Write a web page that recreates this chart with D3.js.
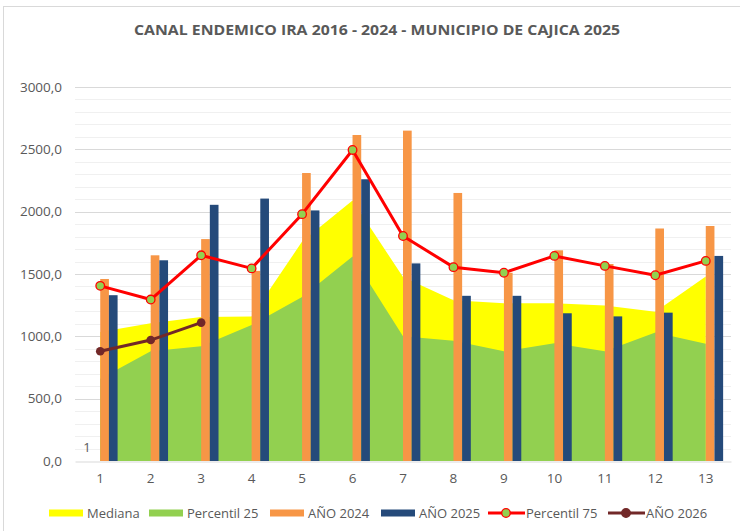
<!DOCTYPE html>
<html>
<head>
<meta charset="utf-8">
<script src="https://cdn.jsdelivr.net/npm/d3@7"></script>
<style>
  body { margin: 0; background: #fff; }
  text { font-family: "Open Sans", "Liberation Sans", sans-serif; fill: #595959; }
</style>
</head>
<body>
<svg id="plotarea"></svg>
<script>
// weeks / periods
var categories = ["1","2","3","4","5","6","7","8","9","10","11","12","13"];
var mediana   = [1035, 1105, 1155, 1160, 1760, 2090, 1475, 1290, 1265, 1265, 1248, 1197, 1480];
var percentil25 = [660, 880, 920, 1090, 1315, 1640, 1000, 965, 880, 945, 880, 1030, 940];
var percentil75 = [1405, 1295, 1650, 1545, 1980, 2495, 1805, 1555, 1510, 1645, 1565, 1490, 1605];
var anio2024  = [1460, 1650, 1780, 1525, 2310, 2615, 2650, 2150, 1510, 1690, 1580, 1865, 1885];
var anio2025  = [1330, 1610, 2055, 2105, 2010, 2260, 1585, 1325, 1325, 1185, 1160, 1190, 1645];
var anio2026  = [880, 970, 1110];
var yTicks = [0, 500, 1000, 1500, 2000, 2500, 3000];

var width = 740, height = 531;
var plotLeft = 75, plotRight = 731, plotTop = 87, plotBottom = 461;

var svg = d3.select("#plotarea")
    .attr("width", width)
    .attr("height", height);

// chart border
svg.append("rect")
    .attr("x", 3.5).attr("y", 6.5)
    .attr("width", width).attr("height", height)
    .attr("fill", "none")
    .attr("stroke", "#d9d9d9");

svg.append("text")
    .attr("x", 377).attr("y", 35)
    .attr("text-anchor", "middle")
    .attr("font-size", 13.5)
    .attr("font-weight", "bold")
    .attr("textLength", 486)
    .attr("lengthAdjust", "spacingAndGlyphs")
    .text("CANAL ENDEMICO IRA 2016 - 2024 - MUNICIPIO DE CAJICA 2025");

var x = d3.scaleBand().domain(categories).range([plotLeft, plotRight]).padding(0);
var bw = x.bandwidth();
var xs = d3.scaleBand().domain(["a", "b", "2024", "2025"]).range([-bw * 0.344, bw * 0.344]);
var y = d3.scaleLinear().domain([0, 3000]).range([plotBottom, plotTop]);

function cx(i) { return x(categories[i]) + bw / 2; }

// gridlines
var g = svg.append("g");
g.selectAll(".minor")
    .data(d3.range(100, 3001, 100).filter(function(v) { return v % 500 != 0; }))
    .enter().append("line")
    .attr("x1", plotLeft).attr("x2", plotRight)
    .attr("y1", function(d) { return Math.round(y(d)) + 0.5; })
    .attr("y2", function(d) { return Math.round(y(d)) + 0.5; })
    .attr("stroke", "#f0f0f0");
g.selectAll(".major")
    .data(yTicks.slice(1))
    .enter().append("line")
    .attr("x1", plotLeft).attr("x2", plotRight)
    .attr("y1", function(d) { return Math.round(y(d)) + 0.5; })
    .attr("y2", function(d) { return Math.round(y(d)) + 0.5; })
    .attr("stroke", "#d9d9d9");

// areas
var area = d3.area()
    .x(function(d, i) { return cx(i); })
    .y0(y(0))
    .y1(function(d) { return y(d); });

g.append("path").datum(mediana).attr("d", area).attr("fill", "#ffff00");
g.append("path").datum(percentil25).attr("d", area).attr("fill", "#92d050");

// bars
g.selectAll(".b2024")
    .data(anio2024)
    .enter().append("rect")
    .attr("x", function(d, i) { return cx(i) + xs("2024"); })
    .attr("width", xs.bandwidth())
    .attr("y", function(d) { return y(d); })
    .attr("height", function(d) { return y(0) - y(d); })
    .attr("fill", "#f79646");
g.selectAll(".b2025")
    .data(anio2025)
    .enter().append("rect")
    .attr("x", function(d, i) { return cx(i) + xs("2025"); })
    .attr("width", xs.bandwidth())
    .attr("y", function(d) { return y(d); })
    .attr("height", function(d) { return y(0) - y(d); })
    .attr("fill", "#254a7a");

// axes
var yAxis = d3.axisLeft(y)
    .tickValues(yTicks)
    .tickSize(0)
    .tickPadding(13)
    .tickFormat(function(d) { return d3.format(".1f")(d).replace(".", ","); });
var ya = svg.append("g").attr("transform", "translate(" + plotLeft + ",0)").call(yAxis);
ya.select(".domain").remove();
ya.selectAll("text").attr("font-size", 13.5).attr("fill", "#595959")
    .attr("font-family", "Open Sans");

var xAxis = d3.axisBottom(x).tickSize(0).tickPadding(12);
var xa = svg.append("g").attr("transform", "translate(0," + (plotBottom + 0.5) + ")").call(xAxis);
xa.select(".domain").attr("stroke", "#d9d9d9");
xa.selectAll("text").attr("font-size", 13.5).attr("fill", "#595959")
    .attr("font-family", "Open Sans");

// stray label
svg.append("text")
    .attr("x", 87).attr("y", 452)
    .attr("text-anchor", "middle")
    .attr("font-size", 13)
    .text("1");

// lines
var line = d3.line()
    .x(function(d, i) { return cx(i); })
    .y(function(d) { return y(d); });

g.append("path").datum(percentil75).attr("d", line)
    .attr("fill", "none").attr("stroke", "#ff0000").attr("stroke-width", 3)
    .attr("stroke-linejoin", "round");
g.selectAll(".m75")
    .data(percentil75)
    .enter().append("circle")
    .attr("cx", function(d, i) { return cx(i); })
    .attr("cy", function(d) { return y(d); })
    .attr("r", 4.3)
    .attr("fill", "#92d050")
    .attr("stroke", "#ff0000")
    .attr("stroke-width", 1.3);

g.append("path").datum(anio2026).attr("d", line)
    .attr("fill", "none").attr("stroke", "#722828").attr("stroke-width", 3);
g.selectAll(".m26")
    .data(anio2026)
    .enter().append("circle")
    .attr("cx", function(d, i) { return cx(i); })
    .attr("cy", function(d) { return y(d); })
    .attr("r", 4.3)
    .attr("fill", "#722828");

// legend
var legendItems = [
    {name: "Mediana", kind: "box", color: "#ffff00", x: 49},
    {name: "Percentil 25", kind: "box", color: "#92d050", x: 149},
    {name: "AÑO 2024", kind: "box", color: "#f79646", x: 270},
    {name: "AÑO 2025", kind: "box", color: "#254a7a", x: 381},
    {name: "Percentil 75", kind: "line", color: "#ff0000", fill: "#92d050", x: 488},
    {name: "AÑO 2026", kind: "line", color: "#722828", fill: "#722828", x: 608}
];
var ly = 513;
var leg = svg.append("g").selectAll("g")
    .data(legendItems)
    .enter().append("g")
    .attr("transform", function(d) { return "translate(" + d.x + "," + ly + ")"; });
leg.filter(function(d) { return d.kind == "box"; })
    .append("rect")
    .attr("x", 0).attr("y", -3.5)
    .attr("width", 34).attr("height", 7)
    .attr("fill", function(d) { return d.color; });
leg.filter(function(d) { return d.kind == "line"; })
    .append("line")
    .attr("x1", 0).attr("x2", 37)
    .attr("stroke", function(d) { return d.color; })
    .attr("stroke-width", 3);
leg.filter(function(d) { return d.kind == "line"; })
    .append("circle")
    .attr("cx", 18).attr("r", 4.3)
    .attr("fill", function(d) { return d.fill; })
    .attr("stroke", function(d) { return d.color; })
    .attr("stroke-width", 1.3);
leg.append("text")
    .attr("x", 38)
    .attr("y", 4.5)
    .attr("font-size", 13)
    .text(function(d) { return d.name; });
</script>
</body>
</html>
